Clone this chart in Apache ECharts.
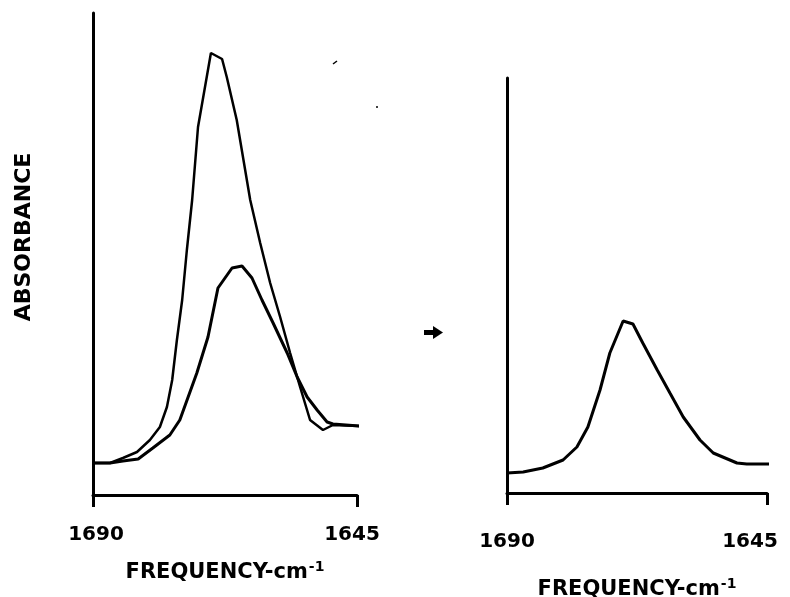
<!DOCTYPE html>
<html><head><meta charset="utf-8">
<script src="https://cdn.jsdelivr.net/npm/echarts@6/dist/echarts.min.js"></script>
<style>html,body{margin:0;padding:0;background:#fff}#c{width:790px;height:597px}</style>
</head><body><div id="c"></div>
<script>
// Frequencies (cm-1) and absorbance (arbitrary units)
const leftTallFreq = [1690,1687.1,1684.9,1682.5,1680.3,1678.6,1677.4,1676.5,1675.7,1674.8,1674.0,1673.1,1672.1,1669.9,1668.0,1667.2,1665.5,1663.2,1661.5,1659.8,1658.1,1656.4,1654.7,1653.0,1650.8,1649.1,1644.5];
const leftTallAbs  = [6.4,6.4,7.4,8.6,11.0,13.6,17.6,23.0,31.0,39.0,49.0,59.0,73.6,88.4,87.2,83.6,75.0,59.0,50.4,42.4,35.6,28.4,21.6,15.0,13.0,14.0,13.8];
const leftBroadFreq = [1690,1687.1,1684.9,1682.3,1679.8,1676.9,1675.2,1672.3,1670.4,1668.7,1666.3,1664.6,1662.9,1661.2,1659.3,1656.9,1655.2,1653.5,1651.8,1650.1,1649.1,1644.5];
const leftBroadAbs  = [6.4,6.4,6.8,7.2,9.4,12.0,15.0,24.4,31.6,41.4,45.4,45.8,43.4,39.0,34.4,28.4,23.6,19.6,17.0,14.6,14.2,13.8];
const rightFreq = [1690,1687.2,1683.8,1680.3,1677.9,1676.0,1673.9,1672.2,1669.9,1668.2,1666.5,1664.0,1661.8,1659.5,1656.6,1654.3,1650.2,1648.5,1644.5];
const rightAbs  = [4.0,4.2,5.0,6.6,9.2,13.2,20.6,28.0,34.4,33.8,30.0,24.6,20.0,15.2,10.6,8.0,6.0,5.8,5.8];
const tickLabels = [1690, 1645];
const xTitle = 'FREQUENCY-cm';
const xTitleSup = '-1';
const yTitle = 'ABSORBANCE';

const pair = (xs, ys) => xs.map((x, i) => [x, ys[i]]);
const FONT = 'DejaVu Sans';
const axisLine = {show: true, lineStyle: {color: '#000', width: 3}};
const lblStyle = {fontFamily: FONT, fontWeight: 'bold', fontSize: 20, color: '#000'};

function xAx(gi, margin, gap, padHi, padLo) {
  return {
    type: 'value', gridIndex: gi, inverse: true, min: 1645, max: 1690,
    axisLine: axisLine,
    axisTick: {show: true, customValues: tickLabels, length: 12, lineStyle: {color: '#000', width: 3}},
    axisLabel: {show: true, customValues: tickLabels, margin: margin, color: '#000',
      fontFamily: FONT, fontWeight: 'bold', fontSize: 20,
      formatter: v => (v === tickLabels[0] ? '{h|' : '{l|') + String(v) + '}',
      rich: {
        h: Object.assign({padding: padHi}, lblStyle),
        l: Object.assign({padding: padLo}, lblStyle)
      }},
    splitLine: {show: false},
    name: '{m|' + xTitle + '}{s|' + xTitleSup + '}',
    nameLocation: 'middle', nameGap: gap,
    nameTextStyle: {rich: {
      m: {fontFamily: FONT, fontWeight: 'bold', fontSize: 21, color: '#000'},
      s: {fontFamily: FONT, fontWeight: 'bold', fontSize: 14, color: '#000', padding: [0, 0, 12, 1]}
    }}
  };
}
function yAx(gi, max, withName) {
  const a = {
    type: 'value', gridIndex: gi, min: 0, max: max,
    axisLine: axisLine, axisTick: {show: false}, axisLabel: {show: false}, splitLine: {show: false}
  };
  if (withName) {
    a.name = yTitle; a.nameLocation = 'middle'; a.nameGap = 58; a.nameRotate = 90;
    a.nameTextStyle = {fontFamily: FONT, fontWeight: 'bold', fontSize: 22, color: '#000', padding: [0, 0, 0, 34]};
  }
  return a;
}
const lineS = (gi, data, w) => ({
  type: 'line', xAxisIndex: gi, yAxisIndex: gi, data: data, showSymbol: false, clip: false,
  lineStyle: {color: '#000', width: w}, silent: true, animation: false
});

const chart = echarts.init(document.getElementById('c'), null, {renderer: 'canvas'});
chart.setOption({
  backgroundColor: '#fff',
  animation: false,
  grid: [
    {left: 93, top: 13, width: 264, height: 482, outerBoundsMode: 'none', containLabel: false},
    {left: 507, top: 78, width: 260, height: 415, outerBoundsMode: 'none', containLabel: false}
  ],
  xAxis: [xAx(0, 30, 65, [0, 0, 0, 6], [0, 10, 0, 0]), xAx(1, 39, 84, [0, 0, 0, 0], [0, 34, 0, 0])],
  yAxis: [yAx(0, 96.4, true), yAx(1, 83, false)],
  series: [
    lineS(0, pair(leftTallFreq, leftTallAbs), 2.5),
    lineS(0, pair(leftBroadFreq, leftBroadAbs), 3),
    lineS(1, pair(rightFreq, rightAbs), 3)
  ],
  graphic: [
    {type: 'rect', shape: {x: 424, y: 330, width: 11, height: 5}, style: {fill: '#000'}},
    {type: 'polygon', shape: {points: [[433, 326], [443, 332.5], [433, 339]]}, style: {fill: '#000'}},
    {type: 'line', shape: {x1: 333, y1: 64, x2: 337, y2: 61}, style: {stroke: '#000', lineWidth: 1.5}},
    {type: 'circle', shape: {cx: 377, cy: 107, r: 1}, style: {fill: '#000'}}
  ]
});
</script></body></html>
